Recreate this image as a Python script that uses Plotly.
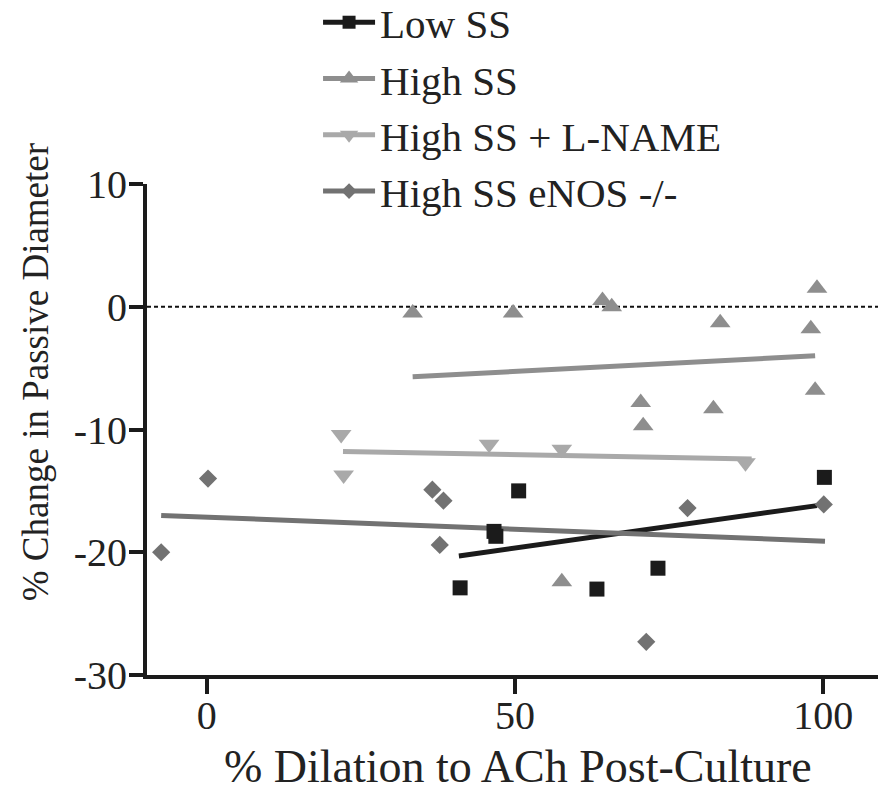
import plotly.graph_objects as go

# ---- data ----
low_x = [41.1, 46.6, 46.9, 50.6, 63.3, 73.2, 100.2]
low_y = [-22.9, -18.3, -18.7, -15.0, -23.0, -21.3, -13.9]
low_fit_x = [40.9, 99.0]
low_fit_y = [-20.3, -16.2]

high_x = [33.4, 49.7, 64.2, 65.7, 83.3, 98.0, 99.0, 98.7, 70.4, 70.8, 82.2, 57.6]
high_y = [-0.5, -0.5, 0.5, 0.0, -1.3, -1.8, 1.5, -6.8, -7.8, -9.7, -8.3, -22.4]
high_fit_x = [33.4, 98.7]
high_fit_y = [-5.7, -4.0]

lname_x = [21.8, 22.2, 45.8, 57.6, 87.4]
lname_y = [-10.4, -13.7, -11.2, -11.6, -12.7]
lname_fit_x = [22.1, 88.4]
lname_fit_y = [-11.8, -12.4]

enos_x = [-7.4, 0.2, 36.6, 38.4, 37.8, 78.0, 100.1, 71.3]
enos_y = [-20.0, -14.0, -14.9, -15.8, -19.4, -16.4, -16.1, -27.3]
enos_fit_x = [-7.4, 100.3]
enos_fit_y = [-17.0, -19.1]

names = ["Low SS", "High SS", "High SS + L-NAME", "High SS eNOS -/-"]
colors = ["#1b1b1b", "#8e8e8e", "#a9a9a9", "#727272"]
symbols = ["square", "triangle-up", "triangle-down", "diamond"]
sizes = [15, 18, 18, 14]

x_ticks = [0, 50, 100]
x_ticktext = ["0", "50", "100"]
y_ticks = [-30, -20, -10, 0, 10]
y_ticktext = ["-30", "-20", "-10", "0", "10"]

series = [
    (low_x, low_y, low_fit_x, low_fit_y),
    (high_x, high_y, high_fit_x, high_fit_y),
    (lname_x, lname_y, lname_fit_x, lname_fit_y),
    (enos_x, enos_y, enos_fit_x, enos_fit_y),
]

FONT = "Liberation Serif, Times New Roman, serif"
fig = go.Figure()

# zero reference line
fig.add_trace(go.Scatter(x=[-9.7, 108.9], y=[0, 0], mode="lines",
                         line=dict(color="#111", width=2, dash="4px,3px"),
                         showlegend=False, hoverinfo="skip", cliponaxis=False))

for i, (sx, sy, fx, fy) in enumerate(series):
    fig.add_trace(go.Scatter(x=fx, y=fy, mode="lines",
                             line=dict(color=colors[i], width=5),
                             showlegend=False, hoverinfo="skip"))
for i, (sx, sy, fx, fy) in enumerate(series):
    fig.add_trace(go.Scatter(x=sx, y=sy, mode="markers",
                             marker=dict(symbol=symbols[i], size=sizes[i], color=colors[i],
                                         line=dict(width=0)),
                             showlegend=False, cliponaxis=False))
# legend entries
for i in range(4):
    fig.add_trace(go.Scatter(x=[None], y=[None], mode="lines+markers", name=names[i],
                             legendgroup="g%d" % i,
                             line=dict(color=colors[i], width=5),
                             marker=dict(symbol=symbols[i], size=sizes[i] - 2, color=colors[i])))

fig.update_layout(
    width=878, height=794,
    margin=dict(l=147, r=0, t=184, b=119, autoexpand=False),
    paper_bgcolor="white", plot_bgcolor="white",
    font=dict(family=FONT, color="#222", size=40),
    showlegend=True,
    legend=dict(x=0.234, y=1.397, xanchor="left", yanchor="top",
                font=dict(family=FONT, size=41, color="#222"),
                tracegroupgap=0, itemwidth=52, bgcolor="rgba(0,0,0,0)"),
    xaxis=dict(range=[-9.7, 108.9], tickvals=x_ticks, ticktext=x_ticktext, ticks="outside",
               ticklen=15, tickwidth=4, ticklabelstandoff=-13,
               tickcolor="#1b1b1b", showline=True, linecolor="#1b1b1b", linewidth=4,
               showgrid=False, zeroline=False, tickfont=dict(family=FONT, size=40, color="#222")),
    yaxis=dict(range=[-30, 10], tickvals=y_ticks, ticktext=y_ticktext, ticks="outside",
               ticklen=14, tickwidth=4, ticklabelstandoff=-6,
               tickcolor="#1b1b1b", showline=True, linecolor="#1b1b1b", linewidth=4,
               showgrid=False, zeroline=False, tickfont=dict(family=FONT, size=40, color="#222")),
    annotations=[
        dict(text="% Dilation to ACh Post-Culture", xref="paper", yref="paper",
             x=0.5075, y=-0.187, xanchor="center", yanchor="middle", showarrow=False,
             font=dict(family=FONT, size=46, color="#222")),
        dict(text="% Change in Passive Diameter", xref="paper", yref="paper",
             x=-0.153, y=0.617, xanchor="center", yanchor="middle", showarrow=False, textangle=-90,
             font=dict(family=FONT, size=37, color="#222")),
    ],
)

fig.write_html("out.html")
